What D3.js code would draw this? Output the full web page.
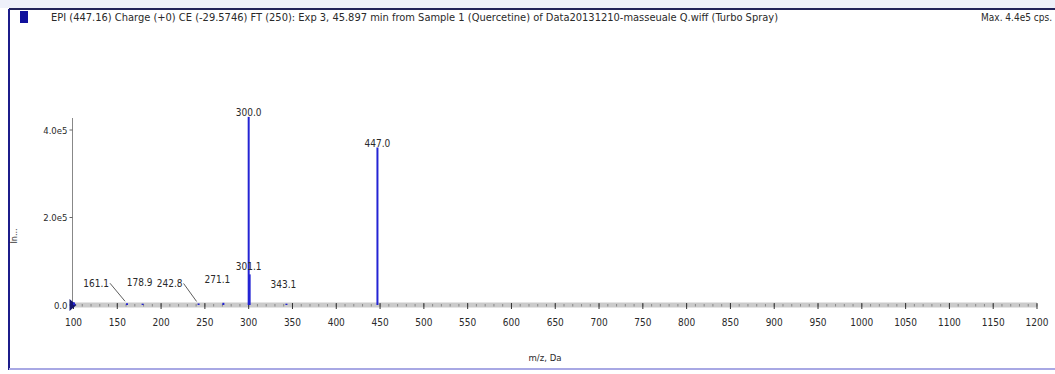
<!DOCTYPE html>
<html>
<head>
<meta charset="utf-8">
<script src="https://cdn.jsdelivr.net/npm/d3@7"></script>
<style>
  body { margin: 0; background: #fff; }
  text { font-family: "DejaVu Sans Condensed", "DejaVu Sans", sans-serif; font-stretch: condensed; fill: #2a2a2a; }
</style>
</head>
<body>
<div id="chart"></div>
<script>
// spectrum data
const peakMz = [100.5, 161.1, 178.9, 242.8, 271.1, 300.0, 301.1, 343.1, 447.0];
const peakIntensity = [6000, 4000, 3000, 3500, 5000, 430000, 70000, 3000, 360000];
const peakLabels = ["", "161.1", "178.9", "242.8", "271.1", "300.0", "301.1", "343.1", "447.0"];
const xTicks = d3.range(100, 1201, 50);
const yTicks = [0, 200000, 400000];
const yTickLabels = ["0.0", "2.0e5", "4.0e5"];
const titleText = "EPI (447.16) Charge (+0) CE (-29.5746) FT (250): Exp 3, 45.897 min from Sample 1 (Quercetine) of Data20131210-masseuale Q.wiff (Turbo Spray)";
const maxText = "Max. 4.4e5 cps.";

const W = 1055, H = 374;
const svg = d3.select("#chart").append("svg").attr("width", W).attr("height", H);

// window frame
svg.append("rect").attr("x", 0).attr("y", 0).attr("width", W).attr("height", 8).attr("fill", "#eef0fa");
svg.append("line").attr("x1", 9).attr("x2", W).attr("y1", 9).attr("y2", 9).attr("stroke", "#22225a").attr("stroke-width", 2);
svg.append("line").attr("x1", 9).attr("x2", 9).attr("y1", 9).attr("y2", 370).attr("stroke", "#1c1c8a").attr("stroke-width", 2);
svg.append("line").attr("x1", 9).attr("x2", W).attr("y1", 369).attr("y2", 369).attr("stroke", "#a8a8e4").attr("stroke-width", 2);
svg.append("rect").attr("x", 20).attr("y", 11).attr("width", 8).attr("height", 12).attr("fill", "#10109c");

svg.append("text").attr("x", 51).attr("y", 21).attr("font-size", 11).text(titleText);
svg.append("text").attr("x", 1052).attr("y", 21).attr("font-size", 10).attr("text-anchor", "end").text(maxText);

const x = d3.scaleLinear().domain([100, 1200]).range([73.5, 1037]);
const y = d3.scaleLinear().domain([0, 400000]).range([305, 130]);

// x axis: grey band with minor and major ticks
svg.append("rect").attr("x", x(100)).attr("y", y(0) - 2.5).attr("width", x(1200) - x(100)).attr("height", 5).attr("fill", "#cbcbcb");
svg.append("g").selectAll("line").data(d3.range(100, 1201, 10)).join("line")
  .attr("x1", d => x(d)).attr("x2", d => x(d))
  .attr("y1", y(0) - 1).attr("y2", y(0) + 1.5)
  .attr("stroke", "#777").attr("stroke-width", 0.8);
svg.append("g").selectAll("line").data(xTicks).join("line")
  .attr("x1", d => x(d)).attr("x2", d => x(d))
  .attr("y1", y(0) - 2).attr("y2", y(0) + 4)
  .attr("stroke", "#333").attr("stroke-width", 1);
svg.append("g").selectAll("text").data(xTicks).join("text")
  .attr("x", d => x(d)).attr("y", 326)
  .attr("text-anchor", "middle").attr("font-size", 10)
  .text(d => d);
svg.append("text").attr("x", 545).attr("y", 361).attr("text-anchor", "middle").attr("font-size", 9.5).text("m/z, Da");

// y axis
svg.append("line").attr("x1", x(100) - 1).attr("x2", x(100) - 1).attr("y1", 118).attr("y2", y(0)).attr("stroke", "#888").attr("stroke-width", 1);
svg.append("g").selectAll("line").data(yTicks).join("line")
  .attr("x1", x(100) - 4).attr("x2", x(100) - 1)
  .attr("y1", d => y(d)).attr("y2", d => y(d))
  .attr("stroke", "#666");
svg.append("g").selectAll("text").data(yTicks).join("text")
  .attr("x", x(100) - 6).attr("y", d => y(d) + 3.5)
  .attr("text-anchor", "end").attr("font-size", 9.5)
  .text((d, i) => yTickLabels[i]);
svg.append("text").attr("transform", "translate(17,236) rotate(-90)").attr("text-anchor", "middle").attr("font-size", 9).text("In...");

// start marker
svg.append("path").attr("d", `M${x(100) - 4},${y(0) - 6}L${x(100) + 3},${y(0)}L${x(100) - 4},${y(0) + 6}Z`).attr("fill", "#14146e");

// peaks
svg.append("g").selectAll("line").data(peakMz).join("line")
  .attr("x1", d => x(d)).attr("x2", d => x(d))
  .attr("y1", y(0)).attr("y2", (d, i) => y(peakIntensity[i]))
  .attr("stroke", "#2424d4").attr("stroke-width", 2);

// labels: big peaks centred above, small ones set left with leader lines
const small = {"161.1": [-18, -16, true], "178.9": [-3, -18, false], "242.8": [-16, -16, true], "271.1": [-6, -20, false], "301.1": [-1, -4, false], "343.1": [-3, -16, false]};
peakMz.forEach((m, i) => {
  const lab = peakLabels[i];
  if (!lab) return;
  const px = x(m), py = y(peakIntensity[i]);
  if (small[lab]) {
    const [dx, dy, leader] = small[lab];
    svg.append("text").attr("x", px + dx).attr("y", py + dy).attr("text-anchor", leader ? "end" : "middle").attr("font-size", 10).text(lab);
    if (leader) {
      svg.append("path").attr("d", `M${px + dx + 1},${py + dy - 4}L${px - 2},${py - 2}`).attr("stroke", "#333").attr("fill", "none").attr("stroke-width", 0.8);
    }
  } else {
    svg.append("text").attr("x", px).attr("y", py - 1).attr("text-anchor", "middle").attr("font-size", 10).text(lab);
  }
});
</script>
</body>
</html>
